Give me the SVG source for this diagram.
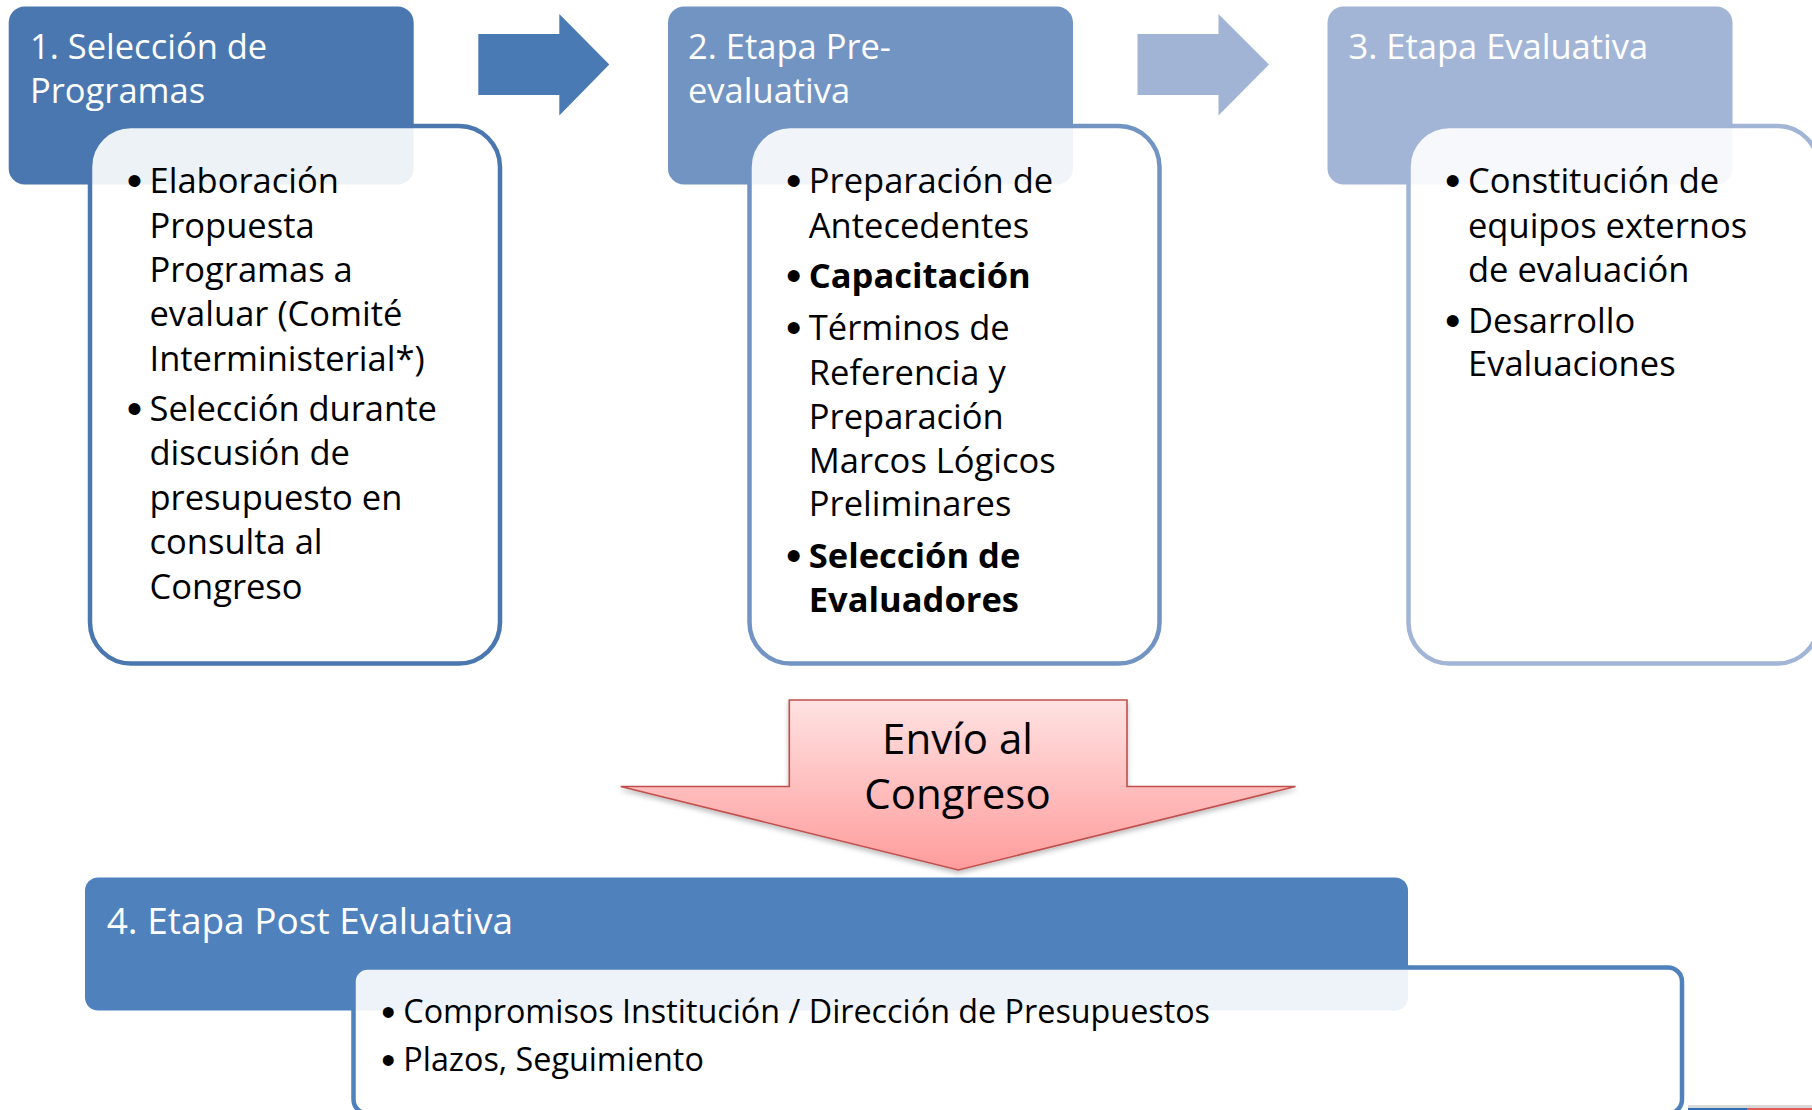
<svg xmlns="http://www.w3.org/2000/svg" width="1812" height="1110" viewBox="0 0 1812 1110">
  <defs>
    <style>
      .hd { font-family: "Open Sans", "Liberation Sans", sans-serif; font-size: 34.5px; fill: #ffffff; }
      .tx { font-family: "Open Sans", "Liberation Sans", sans-serif; font-size: 34.5px; fill: #000000; }
      .b { font-weight: bold; }
      .bul { font-family: "Liberation Sans", "DejaVu Sans", sans-serif; font-size: 44px; font-weight: normal; }
      .box { fill: #ffffff; fill-opacity: 0.9; stroke-width: 4.5; }
      .hd4 { font-family: "Open Sans", "Liberation Sans", sans-serif; font-size: 37px; fill: #ffffff; }
      .tx4 { font-family: "Open Sans", "Liberation Sans", sans-serif; font-size: 32.3px; fill: #000000; }
      .bul4 { font-family: "Liberation Sans", "DejaVu Sans", sans-serif; font-size: 40px; }
      .env { font-family: "Open Sans", "Liberation Sans", sans-serif; font-size: 42px; fill: #000000; text-anchor: middle; }
    </style>
    <linearGradient id="pink" x1="0" y1="0" x2="0" y2="1">
      <stop offset="0" stop-color="#ffe2e2"/>
      <stop offset="1" stop-color="#ff9c9c"/>
    </linearGradient>
    <filter id="shadow" x="-10%" y="-10%" width="120%" height="130%">
      <feDropShadow dx="0" dy="3" stdDeviation="2.5" flood-color="#000000" flood-opacity="0.25"/>
    </filter>
  </defs>

  <rect x="0" y="0" width="1812" height="1110" fill="#ffffff"/>

  <g id="connectors">
    <polygon points="478.3,34 559.3,34 559.3,14 609.3,64.5 559.3,115.5 559.3,95 478.3,95" fill="#4a7ab4"/>
    <polygon points="1137.5,34 1218.5,34 1218.5,14 1269,64.5 1218.5,115.5 1218.5,95 1137.5,95" fill="#a1b4d5"/>
  </g>

  <g id="stage1">
    <rect x="8.7" y="6.5" width="405" height="178" rx="16" fill="#4a77b0"/>
    <text class="hd" x="30" y="58.5">1. Selección de</text>
    <text class="hd" x="30" y="103">Programas</text>
    <rect class="box" x="90" y="126" width="410" height="537.5" rx="41" stroke="#4a77b0"/>
    <text class="tx" y="193"><tspan class="bul" x="126.8" dy="3">•</tspan><tspan x="149.5" dy="-3">Elaboración</tspan></text>
    <text class="tx" x="149.5" y="237.6">Propuesta</text>
    <text class="tx" x="149.5" y="282">Programas a</text>
    <text class="tx" x="149.5" y="326.4">evaluar (Comité</text>
    <text class="tx" x="149.5" y="371">Interministerial*)</text>
    <text class="tx" y="420.6"><tspan class="bul" x="126.8" dy="3">•</tspan><tspan x="149.5" dy="-3">Selección durante</tspan></text>
    <text class="tx" x="149.5" y="465">discusión de</text>
    <text class="tx" x="149.5" y="509.5">presupuesto en</text>
    <text class="tx" x="149.5" y="554">consulta al</text>
    <text class="tx" x="149.5" y="598.5">Congreso</text>
  </g>

  <g id="stage2">
    <rect x="668" y="6.5" width="405" height="178" rx="16" fill="#7294c3"/>
    <text class="hd" x="688" y="58.5">2. Etapa Pre-</text>
    <text class="hd" x="688" y="103">evaluativa</text>
    <rect class="box" x="749.5" y="126" width="410" height="537.5" rx="41" stroke="#7294c3"/>
    <text class="tx" y="193"><tspan class="bul" x="786" dy="3">•</tspan><tspan x="808.8" dy="-3">Preparación de</tspan></text>
    <text class="tx" x="808.8" y="237.6">Antecedentes</text>
    <text class="tx" y="288.4"><tspan class="bul" x="786" dy="3">•</tspan><tspan class="b" x="808.8" dy="-3">Capacitación</tspan></text>
    <text class="tx" y="340.4"><tspan class="bul" x="786" dy="3">•</tspan><tspan x="808.8" dy="-3">Términos de</tspan></text>
    <text class="tx" x="808.8" y="384.6">Referencia y</text>
    <text class="tx" x="808.8" y="429.3">Preparación</text>
    <text class="tx" x="808.8" y="472.7">Marcos Lógicos</text>
    <text class="tx" x="808.8" y="516">Preliminares</text>
    <text class="tx" y="568"><tspan class="bul" x="786" dy="3">•</tspan><tspan class="b" x="808.8" dy="-3">Selección de</tspan></text>
    <text class="tx b" x="808.8" y="611.5">Evaluadores</text>
  </g>

  <g id="stage3">
    <rect x="1327.5" y="6.5" width="405" height="178" rx="16" fill="#a2b5d6"/>
    <text class="hd" x="1348.5" y="58.5">3. Etapa Evaluativa</text>
    <rect class="box" x="1408.5" y="126" width="410" height="537.5" rx="41" stroke="#a2b5d6"/>
    <text class="tx" y="193"><tspan class="bul" x="1445" dy="3">•</tspan><tspan x="1468" dy="-3">Constitución de</tspan></text>
    <text class="tx" x="1468" y="237.6">equipos externos</text>
    <text class="tx" x="1468" y="282">de evaluación</text>
    <text class="tx" y="333"><tspan class="bul" x="1445" dy="3">•</tspan><tspan x="1468" dy="-3">Desarrollo</tspan></text>
    <text class="tx" x="1468" y="376.4">Evaluaciones</text>
  </g>

  <g id="envio-congreso">
    <polygon points="789.3,700 1127,700 1127,786.5 1295.5,786.5 958.3,870 620.7,786.5 789.3,786.5" fill="url(#pink)" stroke="#c0504d" stroke-width="1.6" stroke-linejoin="miter" filter="url(#shadow)"/>
    <text class="env"><tspan x="957.5" y="754">Envío al</tspan><tspan x="957.5" y="809">Congreso</tspan></text>
  </g>

  <g id="stage4">
    <rect x="85" y="877.5" width="1323" height="133" rx="13" fill="#4f81bd"/>
    <text class="hd4" x="106.7" y="934">4. Etapa Post Evaluativa</text>
    <rect class="box" x="353.5" y="967.5" width="1328.5" height="146" rx="14" stroke="#4f81bd"/>
    <text class="tx4" y="1022.7"><tspan class="bul4" x="381.3" dy="3">•</tspan><tspan x="403.3" dy="-3">Compromisos Institución / Dirección de Presupuestos</tspan></text>
    <text class="tx4" y="1070.7"><tspan class="bul4" x="381.3" dy="3">•</tspan><tspan x="403.3" dy="-3">Plazos, Seguimiento</tspan></text>
  </g>

  <g id="corner-strip">
    <rect x="1688" y="1105" width="124" height="3" fill="#d9d9d9"/>
    <rect x="1688" y="1108" width="59" height="2" fill="#2e6eb0"/>
    <rect x="1747" y="1108" width="65" height="2" fill="#e05a5a"/>
  </g>
</svg>
